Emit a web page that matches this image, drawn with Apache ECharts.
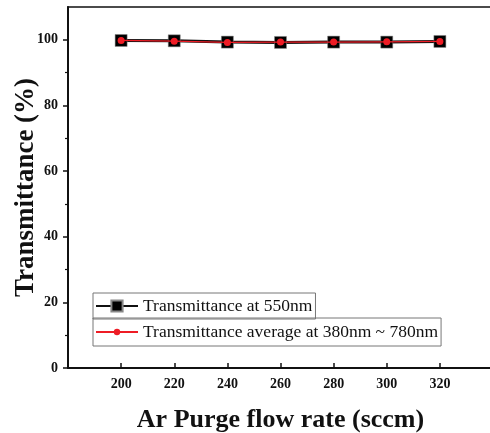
<!DOCTYPE html>
<html>
<head>
<meta charset="utf-8">
<script src="https://cdn.jsdelivr.net/npm/echarts@6/dist/echarts.min.js"></script>
<style>
  html, body { margin: 0; padding: 0; background: #fff; }
  #chart { width: 490px; height: 433px; }
</style>
</head>
<body>
<div id="chart"></div>
<script>
// Ar purge flow rate (sccm)
const flowRates = [200, 220, 240, 260, 280, 300, 320];
// Transmittance (%) at 550 nm
const trans550 = [99.8, 99.7, 99.3, 99.2, 99.3, 99.3, 99.5];
// Average transmittance (%) over 380–780 nm
const transAvg = [99.8, 99.6, 99.2, 99.3, 99.3, 99.4, 99.5];
// Axis tick labels
const xTicks = [200, 220, 240, 260, 280, 300, 320];
const yTicks = [0, 20, 40, 60, 80, 100];
const yMinorTicks = [10, 30, 50, 70, 90];

const name550 = 'Transmittance at 550nm';
const nameAvg = 'Transmittance average at 380nm ~ 780nm';
const serif = '"Liberation Serif", "Times New Roman", serif';

const chart = echarts.init(document.getElementById('chart'), null, { renderer: 'canvas' });

chart.setOption({
  animation: false,
  backgroundColor: '#fff',
  grid: {
    left: 68, right: -3, top: 7, bottom: 65,
    outerBoundsMode: 'none', containLabel: false,
    show: true, borderColor: '#111', borderWidth: 1.5
  },
  legend: [
    {
      data: [name550], left: 93, top: 293,
      orient: 'vertical', itemWidth: 42, itemHeight: 14, itemGap: 0,
      padding: [4, 3, 4, 2], borderColor: '#777', borderWidth: 1,
      textStyle: { fontFamily: serif, fontSize: 17.5, color: '#111' }
    },
    {
      data: [nameAvg], left: 93, top: 318,
      orient: 'vertical', itemWidth: 42, itemHeight: 8, itemGap: 0,
      padding: [5, 3, 5, 2], borderColor: '#777', borderWidth: 1,
      textStyle: { fontFamily: serif, fontSize: 17.5, color: '#111' }
    }
  ],
  xAxis: {
    type: 'value', min: 180, max: 340, interval: 20,
    name: 'Ar Purge flow rate (sccm)', nameLocation: 'middle', nameGap: 39,
    nameTextStyle: { fontFamily: serif, fontWeight: 'bold', fontSize: 26, color: '#111' },
    axisLine: { show: true, lineStyle: { color: '#111', width: 2 } },
    axisTick: { show: true, inside: true, length: 5, customValues: xTicks, lineStyle: { color: '#111', width: 1.5 } },
    axisLabel: {
      customValues: xTicks, margin: 9,
      fontFamily: serif, fontWeight: 'bold', fontSize: 14, color: '#111'
    },
    splitLine: { show: false }
  },
  yAxis: [
    {
      type: 'value', min: 0, max: 110, interval: 10,
      name: 'Transmittance (%)', nameLocation: 'middle', nameGap: 28,
      nameMoveOverlap: false,
      nameTextStyle: { fontFamily: serif, fontWeight: 'bold', fontSize: 27, color: '#111' },
      axisLine: { show: true, lineStyle: { color: '#111', width: 2 } },
      axisTick: { show: true, length: 5, customValues: yTicks, lineStyle: { color: '#111', width: 1.5 } },
      axisLabel: {
        customValues: yTicks, margin: 10,
        fontFamily: serif, fontWeight: 'bold', fontSize: 14, color: '#111'
      },
      splitLine: { show: false }
    },
    {
      type: 'value', min: 0, max: 110, interval: 10, position: 'left',
      axisLine: { show: false },
      axisTick: { show: true, length: 3, customValues: yMinorTicks, lineStyle: { color: '#111', width: 1.2 } },
      axisLabel: { show: false },
      splitLine: { show: false }
    }
  ],
  series: [
    {
      name: name550, type: 'line',
      data: flowRates.map((x, i) => [x, trans550[i]]),
      symbol: 'rect', symbolSize: 12,
      itemStyle: { color: '#000', borderColor: '#888', borderWidth: 0.5 },
      lineStyle: { color: '#111', width: 3 },
      z: 2
    },
    {
      name: nameAvg, type: 'line',
      data: flowRates.map((x, i) => [x, transAvg[i]]),
      symbol: 'circle', symbolSize: 7,
      itemStyle: { color: '#ee1c25' },
      lineStyle: { color: '#ee1c25', width: 1.2 },
      z: 3
    }
  ]
});
</script>
</body>
</html>
